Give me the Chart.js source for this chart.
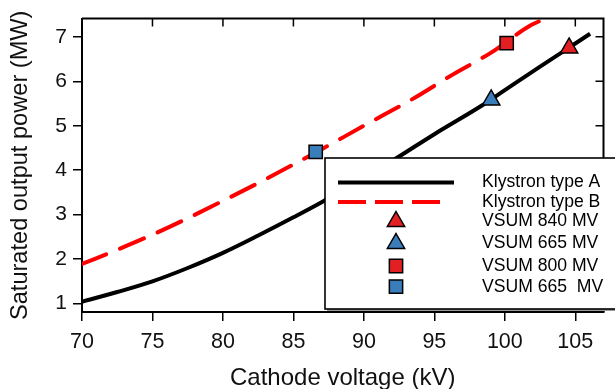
<!DOCTYPE html>
<html>
<head>
<meta charset="utf-8">
<script src="https://cdn.jsdelivr.net/npm/chart.js@4.4.0/dist/chart.umd.min.js"></script>
<style>
  html, body { margin: 0; padding: 0; background: #fff; }
  #wrap { width: 615px; height: 389px; }
</style>
</head>
<body>
<div id="wrap"><canvas id="klyChart" width="615" height="389"></canvas></div>
<script>
/* ------------------------------
   DATA
--------------------------------*/

// Klystron type A (solid black)
const voltageA = [70, 72.5, 75, 77.5, 80, 82.5, 85, 87, 90, 92, 95, 98.4, 100, 102.5, 105, 106.05];
const powerA   = [1.04, 1.26, 1.50, 1.80, 2.14, 2.53, 2.94, 3.28, 3.83, 4.21, 4.81, 5.46, 5.80, 6.33, 6.85, 7.07];

// Klystron type B (red dashed)
const voltageB = [70, 72.5, 75, 77.5, 80, 82.5, 85, 86.6, 90, 93.5, 96.3, 99, 101.9, 102.92];
const powerB   = [1.89, 2.21, 2.55, 2.92, 3.31, 3.71, 4.13, 4.40, 5.00, 5.61, 6.15, 6.64, 7.27, 7.41];

// single VSUM points
const markerLabels  = ["VSUM 840 MV", "VSUM 665 MV", "VSUM 800 MV", "VSUM 665  MV"];
const markerVoltage = [104.56, 99.03, 100.13, 86.58];
const markerPower   = [6.75, 5.58, 6.86, 4.41];

const lineLabels = ["Klystron type A", "Klystron type B"];

const xTicks = [70, 75, 80, 85, 90, 95, 100, 105];
const yTicks = [1, 2, 3, 4, 5, 6, 7];

/* ------------------------------
   STYLE
--------------------------------*/

const RED = "#e21f22";
const BLUE = "#3a7dbb";
const markerFill  = [RED, BLUE, RED, BLUE];
const markerShape = ["triangle", "triangle", "rect", "rect"];
const FONT = "'Liberation Sans', Arial, Helvetica, sans-serif";

function toPoints(xs, ys) {
    return xs.map((x, i) => ({ x: x, y: ys[i] }));
}

let datasets = [
    {
        label: lineLabels[0],
        data: toPoints(voltageA, powerA),
        showLine: true,
        borderColor: "#000",
        borderWidth: 4,
        pointRadius: 0,
        cubicInterpolationMode: "monotone",
        order: 2
    },
    {
        label: lineLabels[1],
        data: toPoints(voltageB, powerB),
        showLine: true,
        borderColor: "#ff0000",
        borderWidth: 4,
        borderDash: [26, 15],
        borderCapStyle: "round",
        pointRadius: 0,
        cubicInterpolationMode: "monotone",
        order: 2
    }
];

markerLabels.forEach((lab, i) => {
    datasets.push({
        label: lab,
        data: [{ x: markerVoltage[i], y: markerPower[i] }],
        showLine: false,
        pointStyle: markerShape[i],
        pointRadius: markerShape[i] === "triangle" ? 10 : 9.4,
        backgroundColor: markerFill[i],
        borderColor: "#000",
        borderWidth: 1.5,
        order: 1
    });
});

/* ------------------------------
   FRAME (top / right with inward ticks)
--------------------------------*/

const framePlugin = {
    id: "frame",
    afterDatasetsDraw(chart) {
        const c = chart.ctx;
        const a = chart.chartArea;
        const sx = chart.scales.x, sy = chart.scales.y;
        c.save();
        c.strokeStyle = "#000";
        c.lineWidth = 2;
        c.beginPath();
        c.moveTo(a.left, a.top);
        c.lineTo(a.right, a.top);
        c.lineTo(a.right, a.bottom);
        c.stroke();
        c.lineWidth = 1.5;
        c.beginPath();
        xTicks.forEach(v => {
            const px = sx.getPixelForValue(v);
            c.moveTo(px, a.top);
            c.lineTo(px, a.top + 8);
        });
        yTicks.forEach(v => {
            const py = sy.getPixelForValue(v);
            c.moveTo(a.right, py);
            c.lineTo(a.right - 8, py);
        });
        c.stroke();
        c.restore();
    }
};

/* ------------------------------
   LEGEND BOX (inside plot, lower right)
--------------------------------*/

function drawMarker(c, shape, fill, x, y, r) {
    c.beginPath();
    if (shape === "triangle") {
        c.moveTo(x, y - r);
        c.lineTo(x + r * 0.866, y + r / 2);
        c.lineTo(x - r * 0.866, y + r / 2);
        c.closePath();
    } else {
        const h = r * Math.SQRT1_2;
        c.rect(x - h, y - h, 2 * h, 2 * h);
    }
    c.fillStyle = fill;
    c.fill();
    c.lineWidth = 1.5;
    c.strokeStyle = "#000";
    c.stroke();
}

const legendPlugin = {
    id: "boxLegend",
    afterDatasetsDraw(chart) {
        const c = chart.ctx;
        const left = 325, top = 158, right = 620, bottom = 309;
        const rows = [182.5, 202, 221.5, 243.5, 266, 286.7];
        c.save();
        // shadow
        c.fillStyle = "#9a9a9a";
        c.fillRect(left + 2, top + 2, right - left, bottom - top);
        c.fillStyle = "#fff";
        c.fillRect(left, top, right - left, bottom - top);
        c.strokeStyle = "#000";
        c.lineWidth = 1.6;
        c.strokeRect(left, top, right - left, bottom - top);

        chart.data.datasets.forEach((ds, i) => {
            const y = rows[i];
            if (ds.showLine) {
                c.beginPath();
                c.strokeStyle = ds.borderColor;
                c.lineWidth = 4;
                c.setLineDash(ds.borderDash ? [28, 9] : []);
                c.lineCap = "butt";
                c.moveTo(338, y);
                c.lineTo(ds.borderDash ? 442 : 454, y);
                c.stroke();
                c.setLineDash([]);
            } else {
                drawMarker(c, ds.pointStyle, ds.backgroundColor, 396, y, ds.pointRadius);
            }
            c.fillStyle = "#000";
            c.font = "17.6px " + FONT;
            c.textBaseline = "middle";
            c.textAlign = "left";
            c.fillText(ds.label, 482, y);
        });
        c.restore();
    }
};

/* ------------------------------
   CHART
--------------------------------*/

let ctx = document.getElementById("klyChart");

let klyChart = new Chart(ctx, {
    type: "scatter",
    data: { datasets: datasets },
    options: {
        responsive: false,
        animation: false,
        devicePixelRatio: 1,
        layout: { padding: { top: 13, right: 2, left: 0, bottom: 0 } },
        plugins: {
            legend: { display: false },
            tooltip: { enabled: false }
        },
        scales: {
            x: {
                type: "linear",
                min: 70,
                max: 107,
                afterBuildTicks: s => { s.ticks = xTicks.map(v => ({ value: v })); },
                afterFit: s => { s.height = 77; },
                grid: { drawOnChartArea: false, color: "#000", lineWidth: 1.5, tickLength: 9 },
                border: { display: true, color: "#000", width: 2 },
                ticks: {
                    color: "#111",
                    font: { family: FONT, size: 21.5 },
                    padding: 8,
                    maxRotation: 0,
                    callback: v => String(v)
                },
                title: {
                    display: true,
                    text: "Cathode voltage (kV)",
                    color: "#111",
                    font: { family: FONT, size: 24, lineHeight: 1 },
                    padding: { top: 0, bottom: -1 }
                }
            },
            y: {
                type: "linear",
                min: 0.81,
                max: 7.41,
                afterBuildTicks: s => { s.ticks = yTicks.map(v => ({ value: v })); },
                afterFit: s => { s.width = 82; },
                grid: { drawOnChartArea: false, color: "#000", lineWidth: 1.5, tickLength: 9 },
                border: { display: true, color: "#000", width: 2 },
                ticks: {
                    color: "#111",
                    font: { family: FONT, size: 21 },
                    padding: 6,
                    callback: v => String(v)
                },
                title: {
                    display: true,
                    text: "Saturated output power (MW)",
                    color: "#111",
                    font: { family: FONT, size: 23.6, lineHeight: 1 },
                    padding: { top: 9, bottom: 0 }
                }
            }
        }
    },
    plugins: [framePlugin, legendPlugin]
});
</script>
</body>
</html>
